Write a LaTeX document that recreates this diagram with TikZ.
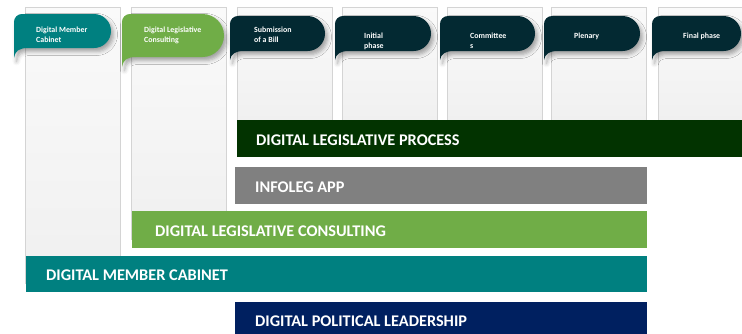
\documentclass[tikz,border=0pt]{standalone}
\usepackage{fontspec}
\setmainfont{Carlito}
\usetikzlibrary{positioning, shadows.blur}
\definecolor{cabinetteal}{RGB}{0,128,128}
\definecolor{consultgreen}{RGB}{112,173,71}
\definecolor{phasedark}{RGB}{3,41,50}
\definecolor{processgreen}{RGB}{2,51,0}
\definecolor{infoleggray}{RGB}{128,128,128}
\definecolor{leadernavy}{RGB}{0,32,96}
\newcommand\phasetab[6]{%
  \pgfmathsetmacro\tabr{(#4-#2)/2}
  \fill[#6, tabshadow] ({#1},{#2+8}) .. controls ({#1},{#2+3.5}) and ({#1+3.5},{#2}) .. ({#1+8},{#2})
    -- ({#3-\tabr},{#2}) .. controls ({#3-0.448*\tabr},{#2}) and ({#3},{#2+0.448*\tabr}) .. ({#3},{#2+\tabr})
    .. controls ({#3},{#4-0.448*\tabr}) and ({#3-0.448*\tabr},{#4}) .. ({#3-\tabr},{#4})
    -- ({#1+14},{#4}) .. controls ({#1+5},{#4}) and ({#1+1},{#4+3}) .. ({#1},{#5}) -- cycle;}

\begin{document}
\begin{tikzpicture}[x=1pt, y=-1pt,
  panel/.style={draw=black!17, line width=0.8pt, top color=black!2, bottom color=black!6},
  tabshadow/.style={blur shadow={shadow xshift=2.5pt, shadow yshift=-3.5pt, shadow blur radius=4pt, shadow opacity=35}},
  tablabel/.style={text=white, font=\fontsize{7.9}{10}\selectfont\bfseries, align=left, anchor=west, inner sep=0pt},
  barlabel/.style={text=white, font=\fontsize{16.3}{19}\selectfont\bfseries, anchor=west, inner sep=0pt}]
  \useasboundingbox (0,0) rectangle (742,333);

  \draw[panel] (25,7) rectangle (120,283);
  \draw[panel] (131,7) rectangle (226,239);
  \foreach \x in {237,342,447,551,658}
    \draw[panel] (\x,7) rectangle ({\x+95},125);

  \fill[processgreen] (237,120) rectangle (750,157);
  \fill[infoleggray] (235,167) rectangle (647,204);
  \fill[consultgreen] (132,211) rectangle (647,248);
  \fill[cabinetteal] (26,256) rectangle (647,292);
  \fill[leadernavy] (235,302) rectangle (647,340);

  \node[barlabel] (process) at (256,140) {DIGITAL LEGISLATIVE PROCESS};
  \node[barlabel] (infoleg) at (255,187) {INFOLEG APP};
  \node[barlabel] (consulting) at (155,231) {DIGITAL LEGISLATIVE CONSULTING};
  \node[barlabel] (cabinet) at (46,275) {DIGITAL MEMBER CABINET};
  \node[barlabel] (leadership) at (255,321) {DIGITAL POLITICAL LEADERSHIP};

  \phasetab{14}{14}{111}{48}{58}{cabinetteal}
  \phasetab{122}{14}{224}{57}{67}{consultgreen}
  \foreach \l/\r in {230/325,335/431,440/535,544/640,652/741}
    {\phasetab{\l}{16}{\r}{51}{60}{phasedark}}

  \node[tablabel] (tabcabinet) at (36,35) {Digital Member\\Cabinet};
  \node[tablabel] (tabconsulting) at (144,35) {Digital Legislative\\Consulting};
  \node[tablabel] (tabsubmission) at (254,35) {Submission\\of a Bill};
  \node[tablabel] (tabinitial) at (364,41) {Initial\\phase};
  \node[tablabel] (tabcommittees) at (470,41) {Committee\\s};
  \node[tablabel] (tabplenary) at (574,36) {Plenary};
  \node[tablabel] (tabfinal) at (683,36) {Final phase};
\end{tikzpicture}
\end{document}
